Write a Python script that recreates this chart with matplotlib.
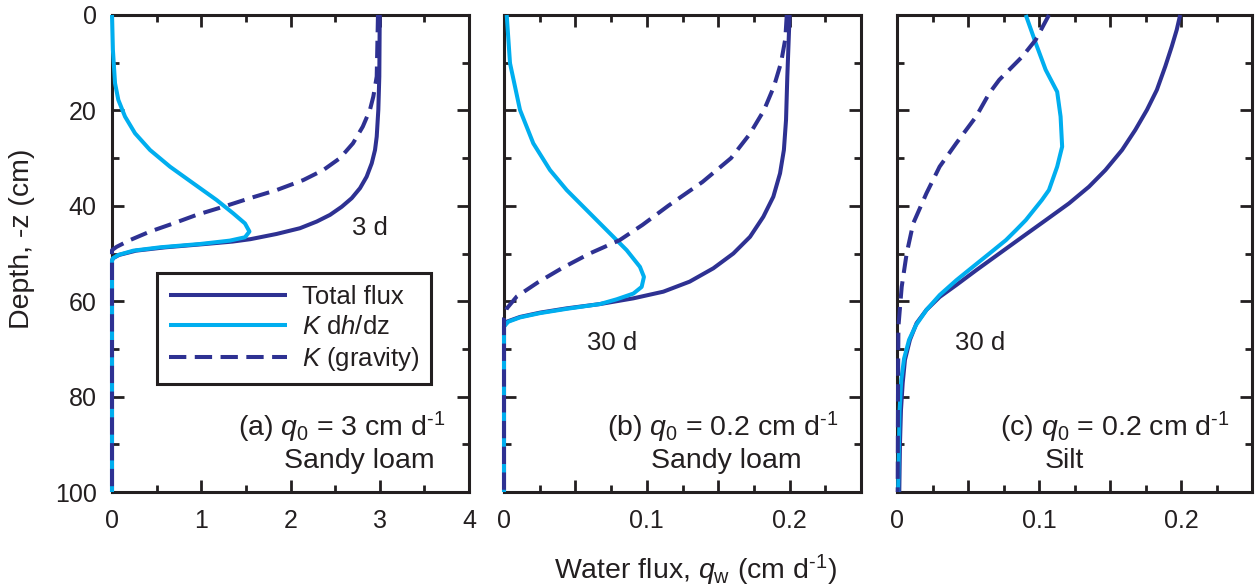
import matplotlib
matplotlib.use('Agg')
import matplotlib.pyplot as plt
from matplotlib.lines import Line2D

plt.rcParams['font.family'] = ['Liberation Sans', 'DejaVu Sans']
plt.rcParams['mathtext.fontset'] = 'custom'
plt.rcParams['mathtext.rm'] = 'Liberation Sans'
plt.rcParams['mathtext.it'] = 'Liberation Sans:italic'
plt.rcParams['mathtext.bf'] = 'Liberation Sans:bold'

# ---------------- data (depth in cm, flux in cm/d) ----------------
# Panel (a): sandy loam, q0 = 3 cm/d, 3 d
depth_a_total = [0, 12.9, 19.9, 25.5, 28.3, 31.1, 33.9, 36.3, 38.4, 40.2, 41.9, 43.3, 44.7, 45.9, 47.0,
                 47.5, 48.0, 48.7, 49.4, 50.3, 51.0, 51.5, 100]
total_a = [3.0, 2.995, 2.984, 2.966, 2.947, 2.91, 2.853, 2.779, 2.686, 2.574, 2.443, 2.294, 2.106, 1.845, 1.55,
           1.35, 1.05, 0.6, 0.27, 0.08, 0.01, 0, 0]
depth_a_kdh = [0, 7.3, 14.3, 17.8, 21.3, 24.8, 28.3, 31.8, 35.3, 38.8, 41.6, 43.7, 45.4, 46.6, 47.3, 48.0,
               48.7, 49.4, 50.3, 51.0, 51.5, 100]
kdh_a = [0.0, 0.01, 0.034, 0.071, 0.146, 0.258, 0.426, 0.65, 0.911, 1.173, 1.359, 1.49, 1.54, 1.49, 1.32, 0.99,
         0.54, 0.24, 0.07, 0.01, 0, 0]
depth_a_grav = [0, 12.9, 17.1, 19.9, 23.4, 26.9, 30.0, 32.5, 34.6, 36.7, 38.4, 40.2, 41.9, 43.7, 45.4, 47.2,
                48.6, 49.3, 100]
grav_a = [2.98, 2.966, 2.928, 2.89, 2.81, 2.70, 2.555, 2.368, 2.144, 1.845, 1.546, 1.247, 0.949, 0.687, 0.426,
          0.2, 0.052, 0, 0]

# Panel (b): sandy loam, q0 = 0.2 cm/d, 30 d
depth_b_total = [0, 12.9, 22.0, 28.3, 33.2, 38.1, 42.3, 46.5, 50.0, 53.1, 55.9, 58.0, 59.4, 60.6, 61.5, 62.4,
                 63.3, 64.3, 65.3, 100]
total_b = [0.2, 0.1984, 0.1975, 0.196, 0.1933, 0.1886, 0.1816, 0.1723, 0.1606, 0.1466, 0.130, 0.1116, 0.0906,
           0.0672, 0.0439, 0.0252, 0.0112, 0.0019, 0, 0]
depth_b_kdh = [0, 10.1, 19.9, 26.9, 32.5, 36.7, 40.9, 45.1, 49.3, 52.8, 54.9, 57.0, 58.4, 59.6, 60.6, 61.6,
               62.5, 63.4, 64.3, 65.3, 100]
kdh_b = [0.0019, 0.0042, 0.0112, 0.0205, 0.0322, 0.0439, 0.0579, 0.0719, 0.0859, 0.0952, 0.098, 0.0964, 0.0906,
         0.0789, 0.0672, 0.0439, 0.0252, 0.0112, 0.003, 0, 0]
depth_b_grav = [0, 5, 10, 15, 20, 25, 30, 35, 40, 44, 47.2, 50, 53, 56, 59, 61.5, 63.5, 100]
grav_b = [0.198, 0.197, 0.194, 0.189, 0.182, 0.172, 0.159, 0.139, 0.115, 0.097, 0.081, 0.060, 0.041, 0.024,
          0.009, 0.002, 0, 0]

# Panel (c): silt, q0 = 0.2 cm/d, 30 d
depth_c_total = [0, 3.1, 6.6, 10.8, 15.7, 19.9, 24.1, 28.3, 32.5, 36.0, 39.5, 43.0, 46.5, 50.0, 53.5, 56.6,
                 59.1, 61.8, 64.6, 68.1, 72.3, 77.2, 82.8, 89.8, 100]
total_c = [0.1994, 0.197, 0.1935, 0.1889, 0.183, 0.176, 0.1678, 0.1585, 0.1468, 0.1352, 0.1211, 0.1048, 0.0884,
           0.0721, 0.0558, 0.0418, 0.0301, 0.0208, 0.0138, 0.0091, 0.0056, 0.004, 0.0028, 0.0021, 0.0016]
depth_c_kdh = [0, 5.9, 11.5, 16.1, 21.3, 27.6, 31.8, 36.7, 38.8, 43, 45.1, 47.2, 50, 52.8, 55.6, 58.7, 61.8,
               65.0, 68.1, 72.0, 76.5, 83, 100]
kdh_c = [0.0907, 0.0977, 0.1047, 0.1128, 0.1152, 0.1163, 0.1128, 0.107, 0.102, 0.0907, 0.0838, 0.0767, 0.0651,
         0.0534, 0.0418, 0.0301, 0.0208, 0.0134, 0.0085, 0.005, 0.003, 0.0018, 0.0008]
depth_c_grav = [0, 5.2, 8.7, 13.6, 16.4, 21.3, 26.9, 31.8, 37.4, 43.7, 50, 57, 65.3, 80, 100]
grav_c = [0.107, 0.0977, 0.0883, 0.072, 0.065, 0.0557, 0.0417, 0.030, 0.0207, 0.0114, 0.0068, 0.0033, 0.001,
          0.0007, 0.0005]

series_labels = ['Total flux', '$K$ d$h$/dz', '$K$ (gravity)']
panel_labels = ['(a) $q_0$ = 3 cm d$^{\\text{-}1}$', '(b) $q_0$ = 0.2 cm d$^{\\text{-}1}$',
                '(c) $q_0$ = 0.2 cm d$^{\\text{-}1}$']
soil_labels = ['Sandy loam', 'Sandy loam', 'Silt']
time_labels = ['3 d', '30 d', '30 d']
y_ticks = [0, 20, 40, 60, 80, 100]

# ---------------- styling ----------------
NAVY = '#2e3192'
CYAN = '#00aeef'
INK = '#231f20'
FS_TICK = 18
FS_LEG = 18.5
FS_NOTE = 20.5
FS_AX = 20.5
LW = 2.9
DASH = (4.3, 2.1)

W, H = 1257, 586
fig = plt.figure(figsize=(W / 100, H / 100), dpi=100)


def rect(l, r, t, b):
    return [l / W, 1 - b / H, (r - l) / W, (b - t) / H]


ax_a = fig.add_axes(rect(112, 469, 15, 492))
ax_b = fig.add_axes(rect(504, 861, 15, 492))
ax_c = fig.add_axes(rect(897, 1252, 15, 492))
axes = [ax_a, ax_b, ax_c]

panels = [
    (depth_a_total, total_a, depth_a_kdh, kdh_a, depth_a_grav, grav_a),
    (depth_b_total, total_b, depth_b_kdh, kdh_b, depth_b_grav, grav_b),
    (depth_c_total, total_c, depth_c_kdh, kdh_c, depth_c_grav, grav_c),
]

for ax, (dt, vt, dk, vk, dg, vg) in zip(axes, panels):
    ax.plot(vt, dt, color=NAVY, lw=LW, solid_capstyle='butt', solid_joinstyle='round',
            zorder=4, clip_on=False)
    ax.plot(vk, dk, color=CYAN, lw=LW, solid_capstyle='butt', solid_joinstyle='round',
            zorder=5, clip_on=False)
    ax.plot(vg, dg, color=NAVY, lw=LW, dashes=DASH, dash_capstyle='butt', zorder=6, clip_on=False)
    ax.set_ylim(100, 0)
    ax.set_yticks(y_ticks)
    ax.set_yticks([10, 30, 50, 70, 90], minor=True)
    for s in ax.spines.values():
        s.set_linewidth(2.2)
        s.set_color(INK)
    ax.tick_params(which='both', direction='in', top=True, right=True, width=2.0,
                   color=INK, labelcolor=INK, labelsize=FS_TICK)
    ax.tick_params(which='major', length=8.6)
    ax.tick_params(which='minor', length=5.0)
    ax.tick_params(axis='y', pad=11)
    ax.tick_params(axis='x', pad=12)

ax_a.set_xlim(0, 4)
ax_a.set_xticks([0, 1, 2, 3, 4], labels=['0', '1', '2', '3', '4'])
ax_a.set_xticks([0.5, 1.5, 2.5, 3.5], minor=True)
ax_a.set_yticks(y_ticks, labels=[str(v) for v in y_ticks])

for ax in (ax_b, ax_c):
    ax.set_xlim(0, 0.25)
    ax.set_xticks([0, 0.05, 0.1, 0.15, 0.2, 0.25], labels=['0', '', '0.1', '', '0.2', ''])
    ax.set_xticks([0.025, 0.075, 0.125, 0.175, 0.225], minor=True)
    ax.tick_params(axis='y', labelleft=False)

# time labels
ax_a.text(2.89, 46.1, time_labels[0], fontsize=FS_LEG, ha='center', va='baseline', color=INK)
ax_b.text(0.0756, 70.2, time_labels[1], fontsize=FS_LEG, ha='center', va='baseline', color=INK)
ax_c.text(0.0588, 70.2, time_labels[2], fontsize=FS_LEG, ha='center', va='baseline', color=INK)

# panel descriptions
ax_a.text(3.74, 88.3, panel_labels[0], fontsize=FS_NOTE, ha='right', va='baseline', color=INK)
ax_a.text(2.77, 95.0, soil_labels[0], fontsize=FS_NOTE, ha='center', va='baseline', color=INK)
ax_b.text(0.234, 88.3, panel_labels[1], fontsize=FS_NOTE, ha='right', va='baseline', color=INK)
ax_b.text(0.156, 95.0, soil_labels[1], fontsize=FS_NOTE, ha='center', va='baseline', color=INK)
ax_c.text(0.234, 88.3, panel_labels[2], fontsize=FS_NOTE, ha='right', va='baseline', color=INK)
ax_c.text(0.118, 95.0, soil_labels[2], fontsize=FS_NOTE, ha='center', va='baseline', color=INK)

# legend
handles = [
    Line2D([], [], color=NAVY, lw=LW, solid_capstyle='butt'),
    Line2D([], [], color=CYAN, lw=LW, solid_capstyle='butt'),
    Line2D([], [], color=NAVY, lw=LW, dashes=DASH, dash_capstyle='butt'),
]
leg = ax_a.legend(handles, series_labels, loc='upper left',
                  bbox_to_anchor=((157 - 112) / 357, 1 - (273 - 15) / 477),
                  borderaxespad=0, fancybox=False, framealpha=1, edgecolor=INK,
                  fontsize=FS_LEG, handlelength=4.6, handletextpad=0.58,
                  labelspacing=0.24, borderpad=0.45)
leg.get_frame().set_linewidth(2.2)
for t in leg.get_texts():
    t.set_color(INK)

# axis labels
fig.text(695 / W, 1 - 579 / H, 'Water flux, $q_\\mathrm{w}$ (cm d$^{\\text{-}1}$)', fontsize=FS_AX,
         ha='center', va='baseline', color=INK)
fig.text(22 / W, 1 - 239 / H, 'Depth, -z (cm)', fontsize=FS_AX, rotation=90,
         ha='center', va='center', color=INK)

fig.savefig('out.png', dpi=100)
